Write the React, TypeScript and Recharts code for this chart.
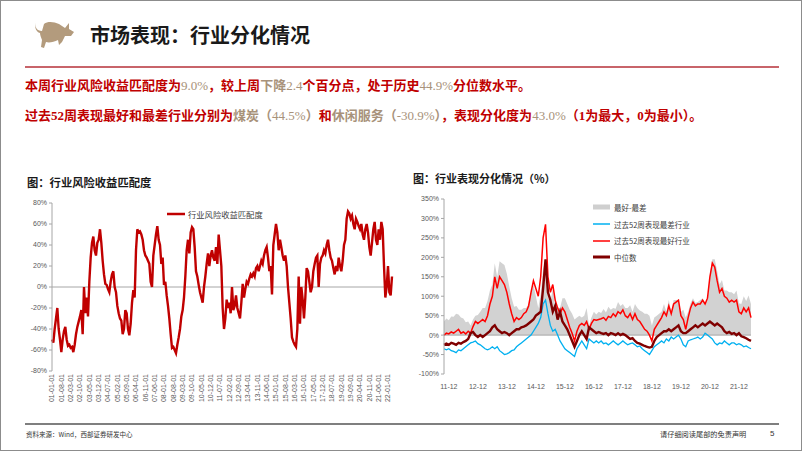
import React from 'react';
import {
  LineChart,
  Line,
  ComposedChart,
  Area,
  XAxis,
  YAxis,
  ReferenceLine,
  Legend,
} from 'recharts';

// 左图：行业风险收益匹配度（%），2001-01 起按月读数
const matchValues = [
  -50, -53, -40, -30, -20, -40, -50, -62, -50, -42, -38, -50, -56, -55, -58, -57,
  -62, -55, -45, -38, -33, -28, -22, -45, 0, -25, -10, -28, 5, 28, 42, 48,
  35, 30, 42, 45, 55, 42, 25, 12, 3, 2, -2, -5, 5, 12, 15, 0,
  -5, -18, -25, -30, -32, -45, -40, -22, -25, -40, -46, -35, -15, -3, -10, 35,
  55, 52, 53, 50, 45, 35, 30, 28, 25, 22, 5, 0, 30, 40, 50, 58,
  45, 40, 22, 28, 2, 5, -8, -18, -30, -45, -58, -57, -60, -63, -55, -48,
  -40, -28, -22, -10, 10, 35, 45, 32, 52, 57, 55, 38, 15, 10, 2, -5,
  -10, -15, 0, 10, 22, 32, 20, 30, 35, 28, 25, 38, 22, 50, 35, 20,
  -20, -40, -30, -12, -20, -15, -25, 0, -22, -18, -8, -20, -25, -30, -15, 3,
  -10, -2, 5, 3, 8, 12, 10, 13, 10, 18, 20, 15, 20, 25, 22, 30,
  35, 38, 28, 15, 20, -7, 40, 50, 60, 52, 35, 45, 38, 30, 25, 30,
  20, 0, -15, -30, -48, -52, -55, -57, -40, 10, -35, 0, -12, -30, -10, 18,
  15, 5, -5, 0, 15, 22, 28, 30, 0, 22, 28, 30, 35, 32, 40, 45,
  35, 28, 25, 18, 12, 20, 15, 28, 20, 15, 25, 40, 45, 65, 72, 70,
  65, 68, 60, 55, 65, 62, 58, 55, 60, 50, 45, 55, 60, 52, 38, 30,
  42, 55, 62, 45, 40, 55, 45, 62, 55, 20, -10, 0, 20, -5, -8, 10,
];

const matchTicks = [
  '01-01-01', '01-08-01', '02-03-01', '02-10-01', '03-05-01', '03-12-01', '04-07-01',
  '05-02-01', '05-09-01', '06-04-01', '06-11-01', '07-06-01', '08-01-01', '08-08-01',
  '09-03-01', '09-10-01', '10-05-01', '10-12-01', '11-07-01', '12-02-01', '12-09-01',
  '13-04-01', '13-11-01', '14-06-01', '15-01-01', '15-08-01', '16-03-01', '16-10-01',
  '17-05-01', '17-12-01', '18-07-01', '19-02-01', '19-09-01', '20-04-01', '20-11-01',
  '21-06-01', '22-01-01',
];

// 右图：2011-10 起按月读数（%）
const bestValues = [
  0, 5, 3, 8, 5, 10, 15, 5, 8, 3, 10, 5, 22, 35, 30, 35,
  40, 35, 50, 80, 100, 150, 120, 150, 140, 130, 110, 80, 55, 35, 45, 40,
  45, 55, 60, 75, 110, 140, 120, 100, 150, 250, 285, 150, 110, 130, 90, 70,
  55, 70, 60, 40, 20, 5, -15, 10, 25, 30, 25, 35, 15, 30, 40, 38,
  40, 42, 45, 38, 48, 45, 55, 48, 60, 55, 65, 50, 45, 55, 40, 55,
  40, 35, 25, 15, 10, 0, -15, 15, 25, 35, 45, 60, 50, 75, 55, 80,
  85, 90, 50, 40, 15, 45, 70, 85, 75, 80, 80, 90, 80, 95, 150, 185,
  175, 140, 110, 120, 100, 95, 85, 90, 85, 90, 60, 55, 70, 60, 70, 45,
];

const worstValues = [
  -35, -38, -35, -40, -42, -45, -38, -40, -35, -30, -25, -20, -18, -15, -22, -25,
  -30, -35, -38, -35, -30, -35, -30, -40, -45, -50, -48, -45, -40, -38, -30, -25,
  -20, -15, -10, -5, 0, 10, 20, 30, 45, 80, 90, 55, 25, 10, 15, 0,
  -15, -25, -35, -40, -45, -50, -55, -35, -25, -15, -25, -35, -10, -15, -20, -15,
  -20, -15, -22, -20, -25, -20, -15, -20, -25, -20, -15, -20, -25, -22, -20, -25,
  -30, -28, -35, -40, -45, -50, -40, -30, -25, -20, -15, -20, -10, -15, -5, -10,
  -5, 0, -10, -25, -30, -15, -12, -10, -8, -5, -10, -5, 5, 0, -5, -10,
  -20, -25, -20, -22, -15, -20, -25, -20, -20, -25, -22, -25, -30, -28, -32, -35,
];

const medianValues = [
  -25, -22, -25, -20, -22, -25, -20, -22, -18, -15, -10, 5, 8, 0, -5, 0,
  -5, 0, 5, 10, 20, 25, 15, 10, 5, 8, 5, 0, 5, 10, 15, 15,
  20, 22, 25, 30, 35, 40, 50, 55, 60, 120, 195, 110, 90, 60, 75, 40,
  60, 35, 25, 15, 0, -15, -30, -15, 0, 10, 0, -10, 20, 15, 10, 5,
  8, 5, 3, 5, 0, 5, 3, 0, 5, 0, 3, 0, -5, -10, -8, -15,
  -20, -22, -25, -28, -30, -32, -30, -15, -5, 0, 5, 10, 10, 15, 10, 15,
  20, 25, 10, 5, 5, 10, 15, 20, 25, 20, 25, 30, 25, 30, 35, 30,
  25, 30, 25, 20, 10, 5, 8, 3, 5, 0, 5, -3, -5, -8, -12, -15,
];

const divTicks = ['11-12', '12-12', '13-12', '14-12', '15-12', '16-12', '17-12', '18-12', '19-12', '20-12', '21-12'];

const pad = (n: number) => String(n).padStart(2, '0');

const matchData = matchValues.map((v, i) => {
  const m = i % 12;
  const y = 1 + Math.floor(i / 12);
  return { date: `${pad(y)}-${pad(m + 1)}-01`, value: v };
});

const divData = bestValues.map((b, i) => {
  const t = 9 + i; // 2011-10 起
  const y = 11 + Math.floor(t / 12);
  const m = (t % 12) + 1;
  return {
    date: `${pad(y)}-${pad(m)}`,
    best: b,
    worst: worstValues[i],
    median: medianValues[i],
    range: b - worstValues[i],
  };
});

const CJK = '"Noto Sans CJK SC", "Noto Sans", sans-serif';
const AXIS_FONT = '"Liberation Sans", Arial, sans-serif';
const RED = '#c00000';
const TAN = '#a8927a';

const MatchTick = ({ x, y, payload }: any) => {
  if (!matchTicks.includes(payload.value)) return <g />;
  return (
    <g transform={`translate(${x},${y})`}>
      <text
        transform="rotate(-90)"
        x={0}
        y={0}
        dy="0.35em"
        textAnchor="end"
        fontSize={7}
        fontFamily={AXIS_FONT}
        fill="#595959"
      >
        {payload.value}
      </text>
    </g>
  );
};

const DivTick = ({ x, y, payload }: any) => {
  if (!divTicks.includes(payload.value)) return <g />;
  return (
    <text x={x} y={y + 7} textAnchor="middle" fontSize={7} fontFamily={AXIS_FONT} fill="#595959">
      {payload.value}
    </text>
  );
};

const MatchLegend = () => (
  <div style={{ display: 'flex', alignItems: 'center', fontFamily: CJK, fontSize: 8.3, color: '#404040' }}>
    <svg width={20} height={6}>
      <line x1={0} y1={3} x2={18} y2={3} stroke={RED} strokeWidth={2.5} />
    </svg>
    <span style={{ marginLeft: 1 }}>行业风险收益匹配度</span>
  </div>
);

const divLegendItems = [
  { label: '最好-最差', color: '#cfcfcf', width: 5 },
  { label: '过去52周表现最差行业', color: '#00b0f0', width: 1.5 },
  { label: '过去52周表现最好行业', color: '#ff0000', width: 1.5 },
  { label: '中位数', color: '#800000', width: 3 },
];

const DivLegend = () => (
  <div style={{ fontFamily: CJK, fontSize: 7.5, color: '#404040' }}>
    {divLegendItems.map((it) => (
      <div key={it.label} style={{ display: 'flex', alignItems: 'center', height: 16.7 }}>
        <svg width={20} height={6}>
          <line x1={0} y1={3} x2={17} y2={3} stroke={it.color} strokeWidth={it.width} />
        </svg>
        <span style={{ marginLeft: 1 }}>{it.label}</span>
      </div>
    ))}
  </div>
);

const Bull = () => (
  <svg width={42} height={32} viewBox="0 0 42 32" style={{ position: 'absolute', left: 33, top: 17 }}>
    <path
      d="M 2 3 C 0 9, 3 13, 8 13 L 10 6 C 14 3, 20 4, 25 6 L 31 10 L 35 5 L 35 11 L 40 14 L 37 18 L 31 18 L 28 24 L 25 27 L 24 22 C 20 24, 15 25, 12 24 L 10 30 L 7 29 L 8 22 C 7 19, 6 17, 6 15 C 2 14, 0 9, 2 3 Z"
      fill="#b39b7d"
    />
  </svg>
);

const Seg = ({ c, children }: { c: string; children: React.ReactNode }) => (
  <span style={{ color: c }}>{children}</span>
);

const headStyle: React.CSSProperties = {
  position: 'absolute',
  left: 24,
  fontSize: 13,
  fontWeight: 700,
  lineHeight: '18px',
  color: RED,
  fontFamily: '"Liberation Serif", "Noto Sans CJK SC", serif',
  whiteSpace: 'nowrap',
};

export default function App() {
  return (
    <div
      style={{
        position: 'absolute',
        left: 0,
        top: 0,
        width: 800,
        height: 449,
        border: '1px solid #8c8c8c',
        background: '#fff',
        overflow: 'hidden',
        fontFamily: CJK,
      }}
    >
      <Bull />
      <div style={{ position: 'absolute', left: 89, top: 20, fontSize: 20, fontWeight: 700, color: '#1a1a1a', lineHeight: '28px' }}>
        市场表现：行业分化情况
      </div>
      <div style={{ position: 'absolute', left: 24, top: 65, width: 754, height: 2, background: '#c8646a' }} />

      <div style={{ ...headStyle, top: 76 }}>
        本周行业风险收益匹配度为<Seg c={TAN}><span style={{ fontWeight: 400 }}>9.0%</span></Seg>，较上周
        <Seg c={TAN}>下降<span style={{ fontWeight: 400 }}>2.4</span></Seg>个百分点，处于历史
        <Seg c={TAN}><span style={{ fontWeight: 400 }}>44.9%</span></Seg>分位数水平。
      </div>
      <div style={{ ...headStyle, top: 106 }}>
        过去52周表现最好和最差行业分别为<Seg c={TAN}>煤炭（<span style={{ fontWeight: 400 }}>44.5%</span>）</Seg>和
        <Seg c={TAN}>休闲服务（<span style={{ fontWeight: 400 }}>-30.9%</span>）</Seg>，表现分化度为
        <Seg c={TAN}><span style={{ fontWeight: 400 }}>43.0%</span></Seg>（1为最大，0为最小）。
      </div>

      <div style={{ position: 'absolute', left: 26, top: 173, fontSize: 11.3, fontWeight: 700, color: '#1a1a1a', lineHeight: '16px' }}>
        图：行业风险收益匹配度
      </div>
      <div style={{ position: 'absolute', left: 412, top: 169, fontSize: 11, fontWeight: 700, color: '#1a1a1a', lineHeight: '16px' }}>
        图：行业表现分化情况（%）
      </div>

      <div style={{ position: 'absolute', left: 9, top: 194 }}>
        <LineChart width={390} height={212} data={matchData} margin={{ top: 8, right: 8, bottom: 0, left: 0 }}>
          <XAxis
            dataKey="date"
            scale="point"
            interval={0}
            axisLine={false}
            tickLine={false}
            tickSize={0}
            tickMargin={3}
            tick={<MatchTick />}
            height={36}
          />
          <YAxis
            domain={[-80, 80]}
            ticks={[-80, -60, -40, -20, 0, 20, 40, 60, 80]}
            tickFormatter={(v) => `${v}%`}
            width={42}
            axisLine={{ stroke: '#a6a6a6' }}
            tickLine={{ stroke: '#a6a6a6' }}
            tickSize={3}
            tick={{ fontSize: 7, fill: '#595959', fontFamily: AXIS_FONT }}
          />
          <ReferenceLine y={0} stroke="#a6a6a6" strokeWidth={1} />
          <Line
            type="linear"
            dataKey="value"
            stroke={RED}
            strokeWidth={2.4}
            dot={false}
            isAnimationActive={false}
          />
          <Legend
            layout="vertical"
            align="center"
            verticalAlign="middle"
            content={<MatchLegend />}
            wrapperStyle={{ left: 157, top: 13, width: 'auto', height: 'auto' }}
          />
        </LineChart>
      </div>

      <div style={{ position: 'absolute', left: 399, top: 189 }}>
        <ComposedChart width={361} height={206} data={divData} margin={{ top: 9, right: 10, bottom: 0, left: 0 }}>
          <XAxis
            dataKey="date"
            scale="point"
            interval={0}
            axisLine={false}
            tickLine={false}
            tick={<DivTick />}
            height={22}
          />
          <YAxis
            domain={[-100, 350]}
            ticks={[-100, -50, 0, 50, 100, 150, 200, 250, 300, 350]}
            tickFormatter={(v) => `${v}%`}
            width={44}
            axisLine={{ stroke: '#a6a6a6' }}
            tickLine={{ stroke: '#a6a6a6' }}
            tickSize={3}
            tick={{ fontSize: 7, fill: '#595959', fontFamily: AXIS_FONT }}
          />
          <Area
            type="linear"
            dataKey="range"
            baseValue={0}
            fill="#d2d2d2"
            fillOpacity={1}
            stroke="none"
            isAnimationActive={false}
          />
          <ReferenceLine y={0} stroke="#a6a6a6" strokeWidth={1} />
          <Line type="linear" dataKey="worst" stroke="#00b0f0" strokeWidth={1.3} dot={false} isAnimationActive={false} />
          <Line type="linear" dataKey="best" stroke="#ff0000" strokeWidth={1.5} dot={false} isAnimationActive={false} />
          <Line type="linear" dataKey="median" stroke="#800000" strokeWidth={2.4} dot={false} isAnimationActive={false} />
          <Legend
            layout="vertical"
            align="center"
            verticalAlign="middle"
            content={<DivLegend />}
            wrapperStyle={{ left: 193, top: 9, width: 'auto', height: 'auto' }}
          />
        </ComposedChart>
      </div>

      <div style={{ position: 'absolute', left: 24, top: 422, width: 754, height: 1.5, background: '#7f7f7f' }} />
      <div style={{ position: 'absolute', left: 25, top: 428, fontSize: 6.5, color: '#333', lineHeight: '10px' }}>
        资料来源：Wind，西部证券研发中心
      </div>
      <div style={{ position: 'absolute', left: 659, top: 428, fontSize: 7.2, color: '#333', lineHeight: '10px' }}>
        请仔细阅读尾部的免责声明
      </div>
      <div style={{ position: 'absolute', left: 769, top: 428, fontSize: 8, color: '#333', lineHeight: '10px', fontFamily: AXIS_FONT }}>
        5
      </div>
    </div>
  );
}
